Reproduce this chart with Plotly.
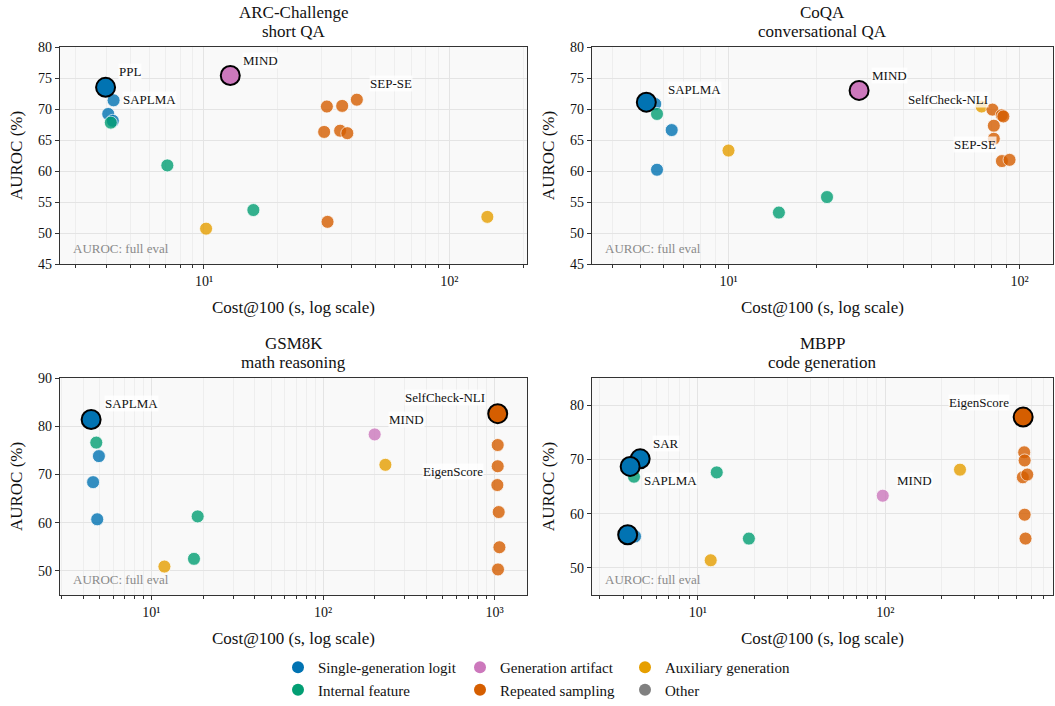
import numpy as np
import plotly.graph_objects as go

FONT = "Liberation Serif, Times New Roman, serif"

# ---------------- data ----------------
GROUP_NAMES = {
    "logit": "Single-generation logit",
    "internal": "Internal feature",
    "artifact": "Generation artifact",
    "sampling": "Repeated sampling",
    "aux": "Auxiliary generation",
    "other": "Other",
}
GROUP_COLORS = {
    "logit": "#0173B2",
    "internal": "#029E73",
    "artifact": "#CC78BC",
    "sampling": "#D55E00",
    "aux": "#E69F00",
    "other": "#808080",
}

# ARC-Challenge (short QA)
ARC_COST = [3.97, 4.28, 4.07, 4.25, 4.17, 7.09, 15.9, 10.2, 143, 12.8,
            31.9, 31.7, 36.6, 42.0, 30.9, 35.9, 38.4]
ARC_AUROC = [73.5, 71.4, 69.2, 68.1, 67.8, 60.9, 53.7, 50.7, 52.6, 75.4,
             51.8, 70.4, 70.5, 71.5, 66.3, 66.5, 66.1]
ARC_GROUP = ["logit", "logit", "logit", "logit", "internal", "internal", "internal",
             "aux", "aux", "artifact"] + ["sampling"] * 7
ARC_HIGHLIGHT = [1, 0, 0, 0, 0, 0, 0, 0, 0, 1, 0, 0, 0, 0, 0, 0, 0]
ARC_LABEL = ["PPL", "SAPLMA", "", "", "", "", "", "", "", "MIND",
             "", "", "", "SEP-SE", "", "", ""]

# CoQA (conversational QA)
COQA_COST = [5.22, 5.6, 6.38, 5.68, 5.68, 14.9, 21.8, 10.0, 74.1, 28.1,
             80.7, 86.9, 88.0, 81.6, 81.6, 87.0, 92.4]
COQA_AUROC = [71.1, 70.8, 66.6, 60.2, 69.2, 53.3, 55.8, 63.3, 70.4, 73.0,
              69.9, 69.0, 68.8, 67.3, 65.2, 61.6, 61.8]
COQA_GROUP = ["logit", "logit", "logit", "logit", "internal", "internal", "internal",
              "aux", "aux", "artifact"] + ["sampling"] * 7
COQA_HIGHLIGHT = [1, 0, 0, 0, 0, 0, 0, 0, 0, 1, 0, 0, 0, 0, 0, 0, 0]
COQA_LABEL = ["SAPLMA", "", "", "", "", "", "", "", "", "MIND",
              "", "SelfCheck-NLI", "", "", "", "", "SEP-SE"]

# GSM8K (math reasoning)
GSM_COST = [4.45, 4.94, 4.57, 4.83, 4.77, 18.6, 17.7, 11.9, 231, 200,
            1043, 1043, 1043, 1038, 1057, 1067, 1047]
GSM_AUROC = [81.4, 73.8, 68.4, 60.7, 76.6, 61.3, 52.5, 50.9, 72.0, 78.3,
             82.6, 76.1, 71.7, 67.8, 62.2, 54.9, 50.3]
GSM_GROUP = ["logit", "logit", "logit", "logit", "internal", "internal", "internal",
             "aux", "aux", "artifact"] + ["sampling"] * 7
GSM_HIGHLIGHT = [1, 0, 0, 0, 0, 0, 0, 0, 0, 0, 1, 0, 0, 0, 0, 0, 0]
GSM_LABEL = ["SAPLMA", "", "", "", "", "", "", "", "", "MIND",
             "SelfCheck-NLI", "", "", "EigenScore", "", "", ""]

# MBPP (code generation)
MBPP_COST = [4.92, 4.35, 4.22, 4.62, 4.56, 12.6, 18.7, 11.7, 250, 96.8,
             543, 550, 553, 541, 571, 553, 559]
MBPP_AUROC = [70.1, 68.7, 56.1, 55.8, 66.8, 67.6, 55.4, 51.4, 68.1, 63.3,
              77.8, 71.3, 69.8, 66.7, 67.2, 59.8, 55.4]
MBPP_GROUP = ["logit", "logit", "logit", "logit", "internal", "internal", "internal",
              "aux", "aux", "artifact"] + ["sampling"] * 7
MBPP_HIGHLIGHT = [1, 1, 1, 0, 0, 0, 0, 0, 0, 0, 1, 0, 0, 0, 0, 0, 0]
MBPP_LABEL = ["SAR", "SAPLMA", "", "", "", "", "", "", "", "MIND",
              "EigenScore", "", "", "", "", "", ""]

DATASET_TITLES = ["ARC-Challenge", "CoQA", "GSM8K", "MBPP"]
TASK_TITLES = ["short QA", "conversational QA", "math reasoning", "code generation"]

X_TICKS = [10, 100, 1000]
X_TICK_TEXT = ["10\u00b9", "10\u00b2", "10\u00b3"]

# ---------------- layout / style ----------------
W, H = 1055, 706


def px_x(p):
    return p / W


def px_y(p):
    return 1 - p / H


PANELS = [
    dict(cost=ARC_COST, auroc=ARC_AUROC, group=ARC_GROUP, hl=ARC_HIGHLIGHT, label=ARC_LABEL,
         xdom=(60, 527), ydom=(47, 264), xr=(0.413, 2.317), yr=(45, 80), yt=[45, 50, 55, 60, 65, 70, 75, 80]),
    dict(cost=COQA_COST, auroc=COQA_AUROC, group=COQA_GROUP, hl=COQA_HIGHLIGHT, label=COQA_LABEL,
         xdom=(592, 1053), ydom=(47, 264), xr=(0.531, 2.115), yr=(45, 80), yt=[45, 50, 55, 60, 65, 70, 75, 80]),
    dict(cost=GSM_COST, auroc=GSM_AUROC, group=GSM_GROUP, hl=GSM_HIGHLIGHT, label=GSM_LABEL,
         xdom=(60, 527), ydom=(378, 595), xr=(0.467, 3.189), yr=(45, 90), yt=[50, 60, 70, 80, 90]),
    dict(cost=MBPP_COST, auroc=MBPP_AUROC, group=MBPP_GROUP, hl=MBPP_HIGHLIGHT, label=MBPP_LABEL,
         xdom=(592, 1053), ydom=(378, 595), xr=(0.435, 2.894), yr=(45, 85), yt=[50, 60, 70, 80]),
]

# label offsets in pixels: (xshift, yshift, xanchor)
LABEL_OFFSETS = {
    (0, "PPL"): (12, 16, "left"),
    (0, "SAPLMA"): (8, 1, "left"),
    (0, "MIND"): (12, 15, "left"),
    (0, "SEP-SE"): (12, 16, "left"),
    (1, "SAPLMA"): (21, 13, "left"),
    (1, "MIND"): (12, 15, "left"),
    (1, "SelfCheck-NLI"): (-13, 16, "right"),
    (1, "SEP-SE"): (-13, 15, "right"),
    (2, "SAPLMA"): (13, 16, "left"),
    (2, "MIND"): (13, 15, "left"),
    (2, "SelfCheck-NLI"): (-12, 16, "right"),
    (2, "EigenScore"): (-13, 14, "right"),
    (3, "SAR"): (12, 15, "left"),
    (3, "SAPLMA"): (13, -14, "left"),
    (3, "MIND"): (13, 15, "left"),
    (3, "EigenScore"): (-13, 15, "right"),
}

GROUP_DRAW_ORDER = ["logit", "internal", "aux", "artifact", "sampling", "other"]

fig = go.Figure()
annotations = []
layout_axes = {}

minor_vals = [m * 10 ** e for e in range(0, 4) for m in range(2, 10)]

for i, p in enumerate(PANELS):
    n = i + 1
    xa = "x" if n == 1 else f"x{n}"
    ya = "y" if n == 1 else f"y{n}"
    xkey = "xaxis" if n == 1 else f"xaxis{n}"
    ykey = "yaxis" if n == 1 else f"yaxis{n}"
    cost = np.array(p["cost"], dtype=float)
    auroc = np.array(p["auroc"], dtype=float)
    group = np.array(p["group"])
    hl = np.array(p["hl"], dtype=bool)

    # normal points
    for g in GROUP_DRAW_ORDER:
        m = (group == g) & (~hl)
        if m.any():
            fig.add_trace(go.Scatter(
                x=cost[m], y=auroc[m], mode="markers", xaxis=xa, yaxis=ya,
                showlegend=False, hoverinfo="skip",
                marker=dict(size=13, color=GROUP_COLORS[g], opacity=0.8,
                            line=dict(color="white", width=0.8))))
    # highlighted points
    for g in GROUP_DRAW_ORDER:
        m = (group == g) & hl
        if m.any():
            fig.add_trace(go.Scatter(
                x=cost[m], y=auroc[m], mode="markers", xaxis=xa, yaxis=ya,
                showlegend=False, hoverinfo="skip",
                marker=dict(size=19, color=GROUP_COLORS[g], opacity=1.0,
                            line=dict(color="black", width=2))))

    # point labels
    for j, lab in enumerate(p["label"]):
        if not lab:
            continue
        dx, dy, anc = LABEL_OFFSETS[(i, lab)]
        annotations.append(dict(
            x=float(np.log10(cost[j])), y=float(auroc[j]), xref=xa, yref=ya,
            text=lab, showarrow=False, xanchor=anc, yanchor="middle",
            xshift=dx, yshift=dy, bgcolor="rgba(255,255,255,0.75)", borderpad=0,
            font=dict(family=FONT, size=13, color="#111111")))

    # titles
    annotations.append(dict(x=0.5, y=1, xref=f"{xa} domain", yref=f"{ya} domain",
                            text=DATASET_TITLES[i], showarrow=False, xanchor="center",
                            yanchor="middle", yshift=35, font=dict(family=FONT, size=17, color="#111111")))
    annotations.append(dict(x=0.5, y=1, xref=f"{xa} domain", yref=f"{ya} domain",
                            text=TASK_TITLES[i], showarrow=False, xanchor="center",
                            yanchor="middle", yshift=16, font=dict(family=FONT, size=17, color="#111111")))
    # note
    annotations.append(dict(x=0.024, y=0.07, xref=f"{xa} domain", yref=f"{ya} domain",
                            text="AUROC: full eval", showarrow=False, xanchor="left",
                            yanchor="middle", font=dict(family=FONT, size=13, color="#8a8a8a")))

    layout_axes[xkey] = dict(
        domain=[px_x(p["xdom"][0]), px_x(p["xdom"][1])], anchor=ya,
        type="log", range=list(p["xr"]),
        tickmode="array", tickvals=X_TICKS, ticktext=X_TICK_TEXT,
        ticks="outside", ticklen=4, tickwidth=1, tickcolor="#333333",
        showline=True, mirror=True, linecolor="#333333", linewidth=1.3,
        showgrid=True, gridcolor="#E4E4E4", gridwidth=0.8, zeroline=False,
        minor=dict(tickmode="array", tickvals=minor_vals, ticks="outside", ticklen=2.5,
                   tickwidth=0.8, tickcolor="#333333", showgrid=True,
                   gridcolor="#EEEEEE", gridwidth=0.6),
        tickfont=dict(family=FONT, size=14, color="#111111"),
        title=dict(text="Cost@100 (s, log scale)", standoff=13,
                   font=dict(family=FONT, size=17, color="#111111")),
        automargin=False,
    )
    layout_axes[ykey] = dict(
        domain=[px_y(p["ydom"][1]), px_y(p["ydom"][0])], anchor=xa,
        range=list(p["yr"]), tickmode="array", tickvals=p["yt"],
        ticks="outside", ticklen=4, tickwidth=1, tickcolor="#333333",
        showline=True, mirror=True, linecolor="#333333", linewidth=1.3,
        showgrid=True, gridcolor="#E4E4E4", gridwidth=0.8, zeroline=False,
        tickfont=dict(family=FONT, size=14, color="#111111"),
        title=dict(text="AUROC (%)", standoff=11,
                   font=dict(family=FONT, size=17, color="#111111")),
        automargin=False,
    )

# legend entries (three columns)
LEGEND_COLUMNS = [["logit", "internal"], ["artifact", "sampling"], ["aux", "other"]]
LEGEND_X = [278, 460, 625]
legend_layouts = {}
for c, col in enumerate(LEGEND_COLUMNS):
    lname = "legend" if c == 0 else f"legend{c + 1}"
    for g in col:
        fig.add_trace(go.Scatter(
            x=[None], y=[None], mode="markers", name=GROUP_NAMES[g],
            legend=lname, showlegend=True,
            marker=dict(size=11, color=GROUP_COLORS[g])))
    legend_layouts[lname] = dict(
        x=px_x(LEGEND_X[c]), y=0.0, xanchor="left", yanchor="bottom",
        orientation="v", bgcolor="rgba(0,0,0,0)", borderwidth=0,
        font=dict(family=FONT, size=15, color="#111111"), tracegroupgap=0,
        itemsizing="constant")

fig.update_layout(
    width=W, height=H,
    margin=dict(l=0, r=0, t=0, b=0),
    paper_bgcolor="white", plot_bgcolor="#F9F9F9",
    font=dict(family=FONT, color="#111111"),
    annotations=annotations,
    **layout_axes,
    **legend_layouts,
)

fig.write_html(
    "out.html",
    config={"displayModeBar": False},
    post_script="document.body.style.margin='0';document.body.style.padding='0';"
                "document.body.style.overflow='hidden';",
)
